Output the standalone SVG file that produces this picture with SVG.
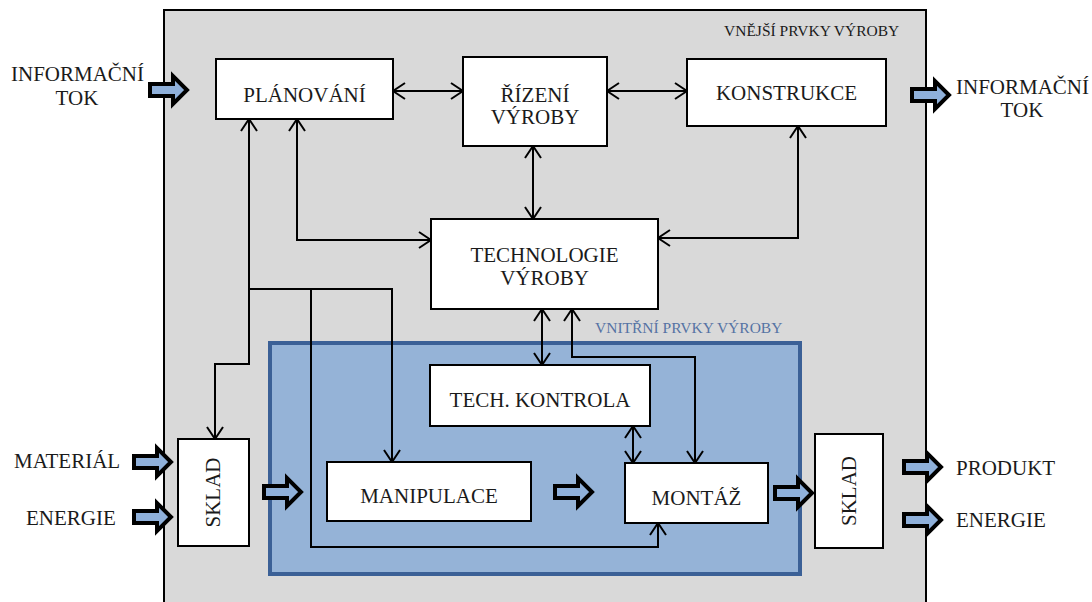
<svg xmlns="http://www.w3.org/2000/svg" xmlns:xlink="http://www.w3.org/1999/xlink" width="1092" height="602" viewBox="0 0 1092 602">
<style>
text{font-family:"Liberation Serif","Times New Roman",Times,serif}
.t{font-size:21px;fill:#1a1a1a}
.m{text-anchor:middle}
.s{font-size:15.5px}
.box{fill:#fff;stroke:#000;stroke-width:2}
.c{fill:none;stroke:#000;stroke-width:2;marker-end:url(#ah)}
.b{marker-start:url(#ah)}
</style>
<defs>
<marker id="ah" viewBox="0 0 14 18" refX="13" refY="9" markerWidth="14" markerHeight="18" markerUnits="userSpaceOnUse" orient="auto-start-reverse">
<path d="M1,1 L13,9 L1,17" fill="none" stroke="#000" stroke-width="2"/>
</marker>
<path id="blk" d="M0,-6 L23,-6 L23,-14 L37,0 L23,14 L23,6 L0,6 Z" fill="#8fb0da" stroke="#000" stroke-width="4" stroke-linejoin="miter"/>
</defs>
<rect width="1092" height="602" fill="#fff"/>
<g id="outer">
<rect x="164" y="10" width="762" height="610" fill="#d9d9d9" stroke="#000" stroke-width="2"/>
<text class="s" x="724" y="36" fill="#1a1a1a" font-family="Liberation Serif, serif">VNĚJŠÍ PRVKY VÝROBY</text>
</g>
<g id="inner">
<rect x="270" y="343" width="530" height="231" fill="#95b3d7" stroke="#3b6096" stroke-width="4"/>
<text class="s" x="595" y="333" fill="#5573a4" font-family="Liberation Serif, serif">VNITŘNÍ PRVKY VÝROBY</text>
</g>
<g id="connectors">
<line class="c b" x1="393" y1="91" x2="463" y2="91"/>
<line class="c b" x1="607" y1="91" x2="687" y2="91"/>
<line class="c b" x1="533" y1="146" x2="533" y2="219"/>
<polyline class="c b" points="297,119 297,240 431,240"/>
<polyline class="c b" points="798,126 798,238 658,238"/>
<polyline class="c b" points="249,119 249,364 215,364 215,439"/>
<polyline class="c" points="249,289 392,289 392,462"/>
<polyline class="c" points="311,289 311,547 658,547 658,523"/>
<line class="c b" x1="542" y1="309" x2="542" y2="365"/>
<polyline class="c b" points="572,309 572,357 695,357 695,463"/>
<line class="c b" x1="633" y1="426" x2="633" y2="463"/>
<use xlink:href="#blk" href="#blk" transform="translate(150,90)"/>
<use xlink:href="#blk" href="#blk" transform="translate(912,95)"/>
<use xlink:href="#blk" href="#blk" transform="translate(134,462)"/>
<use xlink:href="#blk" href="#blk" transform="translate(134,517)"/>
<use xlink:href="#blk" href="#blk" transform="translate(264,492)"/>
<use xlink:href="#blk" href="#blk" transform="translate(555,492)"/>
<use xlink:href="#blk" href="#blk" transform="translate(775,493)"/>
<use xlink:href="#blk" href="#blk" transform="translate(904,467)"/>
<use xlink:href="#blk" href="#blk" transform="translate(904,520)"/>
</g>
<g id="planovani">
<rect class="box" x="216" y="59" width="177" height="60"/>
<text class="t m" x="304.5" y="102" font-family="Liberation Serif, serif">PLÁNOVÁNÍ</text>
</g>
<g id="rizeni">
<rect class="box" x="463" y="57" width="144" height="89"/>
<text class="t m" x="535" y="102" font-family="Liberation Serif, serif">ŘÍZENÍ</text>
<text class="t m" x="535" y="124" font-family="Liberation Serif, serif">VÝROBY</text>
</g>
<g id="konstrukce">
<rect class="box" x="687" y="59" width="199" height="67"/>
<text class="t m" x="786.5" y="100" font-family="Liberation Serif, serif">KONSTRUKCE</text>
</g>
<g id="technologie">
<rect class="box" x="431" y="219" width="227" height="90"/>
<text class="t m" x="544.5" y="262" font-family="Liberation Serif, serif">TECHNOLOGIE</text>
<text class="t m" x="544.5" y="285" font-family="Liberation Serif, serif">VÝROBY</text>
</g>
<g id="kontrola">
<rect class="box" x="430" y="365" width="220" height="61"/>
<text class="t m" x="540" y="407" font-family="Liberation Serif, serif">TECH. KONTROLA</text>
</g>
<g id="manipulace">
<rect class="box" x="327" y="462" width="204" height="59"/>
<text class="t m" x="429" y="503" font-family="Liberation Serif, serif">MANIPULACE</text>
</g>
<g id="montaz">
<rect class="box" x="625" y="463" width="143" height="60"/>
<text class="t m" x="696.5" y="505" font-family="Liberation Serif, serif">MONTÁŽ</text>
</g>
<g id="sklad1">
<rect class="box" x="178" y="439" width="71" height="107"/>
<text class="t m" transform="translate(220,492.5) rotate(-90)" font-family="Liberation Serif, serif">SKLAD</text>
</g>
<g id="sklad2">
<rect class="box" x="815" y="434" width="68" height="114"/>
<text class="t m" transform="translate(856,491) rotate(-90)" font-family="Liberation Serif, serif">SKLAD</text>
</g>
<g id="labels" font-family="Liberation Serif, serif">
<text class="t" x="11" y="81">INFORMAČNÍ</text>
<text class="t m" x="77" y="105">TOK</text>
<text class="t" x="956" y="94">INFORMAČNÍ</text>
<text class="t m" x="1022" y="117">TOK</text>
<text class="t" x="14" y="468">MATERIÁL</text>
<text class="t" x="26" y="525">ENERGIE</text>
<text class="t" x="956" y="475">PRODUKT</text>
<text class="t" x="956" y="527">ENERGIE</text>
</g>
</svg>
